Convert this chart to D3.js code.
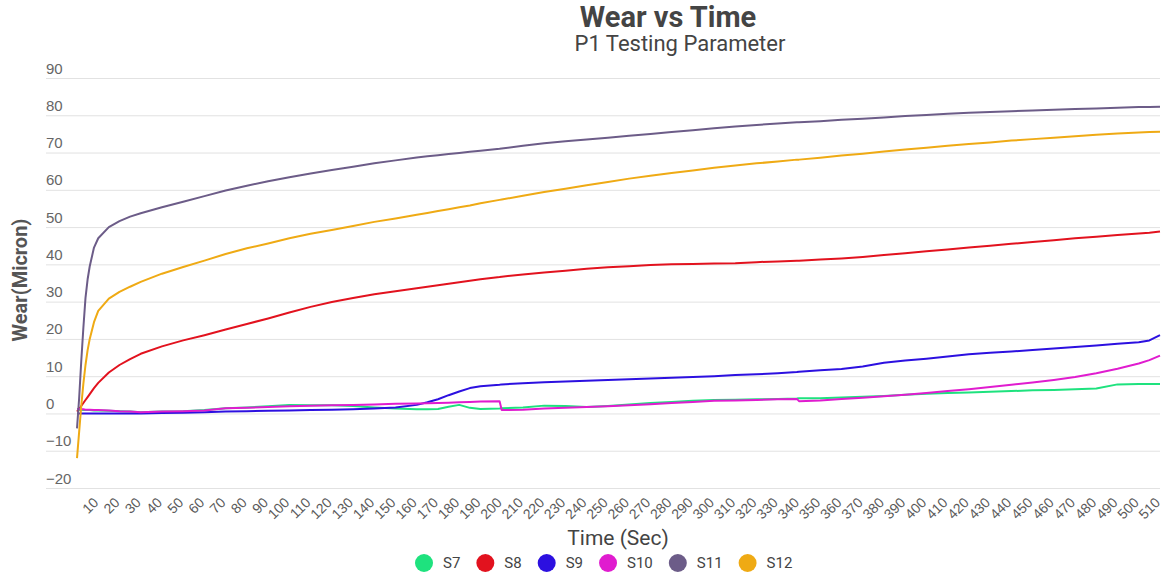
<!DOCTYPE html>
<html>
<head>
<meta charset="utf-8">
<script src="https://cdn.jsdelivr.net/npm/d3@7"></script>
<style>
  html, body { margin: 0; padding: 0; background: #fff; }
  svg { display: block; font-family: Roboto, "Noto Sans", sans-serif; }
</style>
</head>
<body>
<svg id="chart" width="1163" height="577"></svg>
<script>
// Sampling times (seconds) shared by all specimens
const times = [0,1,2,3,4,5,6,8,10,15,20,25,30,40,50,60,70,80,90,100,110,120,130,140,150,160,165,170,175,180,185,190,199,200,210,220,230,240,250,260,270,280,290,300,310,320,330,339,340,350,360,370,380,390,400,410,420,430,440,450,460,470,480,490,500,505,510];

// Wear (micron) per specimen, one value per entry of `times`
const s7  = [1.0,1.0,1.0,0.9,0.9,0.9,0.9,0.8,0.8,0.7,0.6,0.5,0.3,0.5,0.6,0.9,1.4,1.6,1.9,2.3,2.2,2.2,2.0,1.6,1.3,1.1,1.1,1.2,1.8,2.3,1.5,1.2,1.3,1.4,1.6,2.1,2.0,1.7,2.0,2.4,2.8,3.1,3.4,3.6,3.7,3.8,3.9,4.0,4.1,4.1,4.3,4.5,4.7,5.0,5.3,5.5,5.6,5.8,6.0,6.2,6.3,6.5,6.7,7.8,7.9,7.9,7.9];
const s8  = [0.5,1.2,2.0,2.8,3.6,4.4,5.2,6.8,8.2,11,13,14.6,16,18,19.6,21,22.5,24,25.5,27.1,28.6,29.9,31,32,32.8,33.6,34,34.4,34.8,35.2,35.6,36,36.6,36.7,37.3,37.8,38.3,38.8,39.2,39.5,39.8,40,40.1,40.2,40.3,40.6,40.8,41,41,41.3,41.6,42,42.5,43,43.5,44,44.5,45,45.5,46,46.5,47,47.4,47.9,48.3,48.5,48.8];
const s9  = [0,0,0,0,0,0,0,0,0,0,0,0,0,0.1,0.2,0.3,0.5,0.6,0.7,0.8,0.9,1.0,1.1,1.3,1.6,2.3,3.0,3.8,4.9,5.9,6.8,7.3,7.7,7.8,8.1,8.4,8.6,8.8,9.0,9.2,9.4,9.6,9.8,10.0,10.3,10.5,10.8,11.1,11.2,11.6,11.9,12.6,13.6,14.2,14.7,15.3,15.9,16.3,16.6,17.0,17.4,17.8,18.2,18.7,19.1,19.6,21];
const s10 = [1.2,1.2,1.1,1.1,1.0,1.0,1.0,0.9,0.9,0.8,0.6,0.5,0.3,0.5,0.6,0.8,1.4,1.5,1.7,1.9,2.1,2.2,2.3,2.4,2.6,2.7,2.75,2.8,2.9,3.0,3.1,3.2,3.3,0.9,1.0,1.3,1.5,1.7,1.9,2.2,2.5,2.8,3.1,3.4,3.5,3.6,3.8,3.9,3.3,3.5,3.9,4.2,4.6,5.0,5.5,6.0,6.5,7.1,7.7,8.3,9.0,9.8,10.8,12.0,13.4,14.3,15.5];
const s11 = [-4,4,14,23,31,36,39.5,44.5,47,50,51.6,52.8,53.7,55.3,56.8,58.3,59.8,61.1,62.3,63.4,64.4,65.3,66.2,67.1,67.9,68.7,69,69.3,69.6,69.9,70.2,70.5,71.0,71.1,71.8,72.5,73.0,73.5,74.0,74.5,75.0,75.5,76.0,76.5,77.0,77.4,77.8,78.1,78.1,78.4,78.8,79.1,79.4,79.8,80.1,80.4,80.7,80.9,81.1,81.3,81.5,81.7,81.8,82.0,82.2,82.2,82.3];
const s12 = [-12,-5,2,8,13,17,20,24.5,27.5,30.8,32.6,34,35.3,37.5,39.3,41.0,42.8,44.3,45.6,47.0,48.2,49.2,50.3,51.4,52.3,53.3,53.8,54.3,54.8,55.3,55.8,56.4,57.3,57.4,58.4,59.4,60.3,61.2,62.1,63.0,63.8,64.5,65.2,65.9,66.5,67.1,67.6,68.1,68.1,68.6,69.2,69.7,70.3,70.8,71.3,71.8,72.3,72.7,73.2,73.6,74.0,74.4,74.8,75.1,75.4,75.5,75.6];

const seriesNames  = ["S7", "S8", "S9", "S10", "S11", "S12"];
const seriesValues = [s7, s8, s9, s10, s11, s12];
const seriesColors = ["#1ee27e", "#e2121e", "#2c10e0", "#e01ccf", "#6c5c88", "#efaa14"];

const yTicks = [-20, -10, 0, 10, 20, 30, 40, 50, 60, 70, 80, 90];
const xTicks = d3.range(10, 511, 10);

const svg = d3.select("#chart");

const x = d3.scaleLinear().domain([0, 510]).range([77, 1160]);
const y = d3.scaleLinear().domain([-20, 90]).range([488, 78]);

// Horizontal gridlines with value labels sitting above each line
const yAxis = svg.append("g")
  .attr("transform", "translate(46,0)")
  .call(d3.axisRight(y).tickValues(yTicks).tickSize(1114).tickFormat(d3.format("d")));
yAxis.select(".domain").remove();
yAxis.selectAll(".tick line").attr("stroke", "#e2e2e2").attr("stroke-width", 1);
yAxis.selectAll(".tick text")
  .attr("x", 0).attr("dy", -5)
  .attr("text-anchor", "start")
  .attr("fill", "#666")
  .style("font-size", "15px");

// Time axis with slanted labels
const xAxis = svg.append("g")
  .attr("transform", "translate(0,488)")
  .call(d3.axisBottom(x).tickValues(xTicks).tickSize(0).tickFormat(d3.format("d")));
xAxis.select(".domain").remove();
xAxis.selectAll(".tick text")
  .attr("text-anchor", "end")
  .attr("fill", "#5a5a5a")
  .style("font-size", "14px")
  .attr("x", 0).attr("y", 0).attr("dy", "0.35em")
  .attr("transform", "translate(-3,12) rotate(-45)");

// Wear curves
const line = d3.line()
  .x((d, i) => x(times[i]))
  .y(d => y(d));

svg.append("g").selectAll("path")
  .data(seriesValues)
  .join("path")
  .attr("fill", "none")
  .attr("stroke", (d, i) => seriesColors[i])
  .attr("stroke-width", 2)
  .attr("stroke-linejoin", "round")
  .attr("d", line);

// Titles
svg.append("text")
  .attr("x", 668).attr("y", 27)
  .attr("text-anchor", "middle")
  .attr("fill", "#444")
  .style("font-size", "29px").style("font-weight", "bold")
  .text("Wear vs Time");
svg.append("text")
  .attr("x", 680).attr("y", 51)
  .attr("text-anchor", "middle")
  .attr("fill", "#444")
  .style("font-size", "22px")
  .text("P1 Testing Parameter");

svg.append("text")
  .attr("x", 618).attr("y", 545)
  .attr("text-anchor", "middle")
  .attr("fill", "#444")
  .style("font-size", "21px")
  .text("Time (Sec)");

svg.append("text")
  .attr("transform", "translate(27,280) rotate(-90)")
  .attr("text-anchor", "middle")
  .attr("fill", "#555")
  .style("font-size", "20px").style("font-weight", "bold")
  .text("Wear(Micron)");

// Legend
const legend = svg.append("g");
let cx = 424;
seriesNames.forEach((name, i) => {
  legend.append("circle")
    .attr("cx", cx).attr("cy", 563).attr("r", 9)
    .attr("fill", seriesColors[i]);
  const t = legend.append("text")
    .attr("x", cx + 19).attr("y", 568)
    .attr("fill", "#444")
    .style("font-size", "15px")
    .text(name);
  cx += 19 + t.node().getComputedTextLength() + 25;
});
</script>
</body>
</html>
